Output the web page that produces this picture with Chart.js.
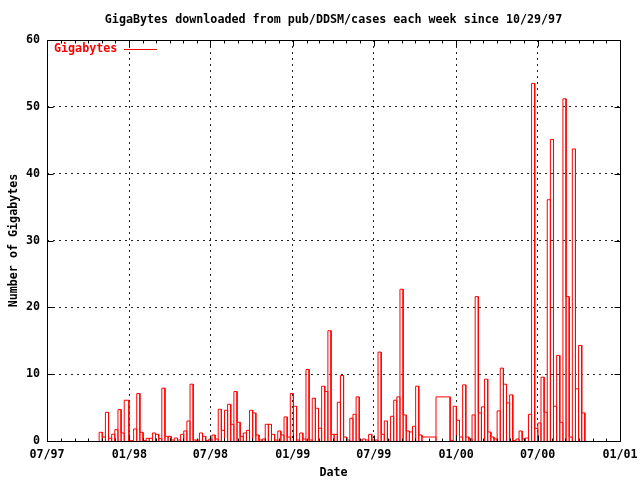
<!DOCTYPE html>
<html>
<head>
<meta charset="utf-8">
<script src="https://cdn.jsdelivr.net/npm/chart.js@4.4.0/dist/chart.umd.min.js"></script>
<style>
body{margin:0;background:#fff;}
</style>
</head>
<body>
<canvas id="chart" width="640" height="480"></canvas>
<script>
var titleText = 'GigaBytes downloaded from pub/DDSM/cases each week since 10/29/97';
var seriesName = 'Gigabytes';
var xTitle = 'Date';
var yTitle = 'Number of Gigabytes';

// one entry per week starting 10/29/97, null = no data for that week
var firstWeek = '1997-10-29';
var gigabytes = [
	1.3, 0.6, 4.3, 0.4, 1.0, 1.7, 4.7, 1.2, 6.1, null,
	0.05, 1.8, 7.1, 1.3, 0.05, 0.4, 0.4, 1.2, 1.0, 0.35,
	7.9, 0.7, 0.7, 0.15, 0.45, 0.15, 1.0, 1.5, 3.0, 8.5,
	0.15, 0.15, 1.2, 0.7, 0.05, 0.3, 0.9, 0.3, 4.75, 1.6,
	4.6, 5.5, 2.5, 7.4, 2.8, 0.7, 1.2, 1.6, 4.6, 4.2,
	0.9, 0.15, 0.3, 2.5, 2.5, 1.0, 0.15, 1.5, 0.9, 3.6,
	0.6, 7.1, 5.2, 0.15, 1.2, 0.3, 10.7, 0.15, 6.4, 4.9,
	1.9, 8.2, 7.4, 16.5, 1.0, 1.0, 5.8, 9.8, 0.6, 0.15,
	3.4, 4.0, 6.6, 0.15, 0.3, 0.15, 1.0, 0.15, 0.15, 13.3,
	1.0, 3.0, 0.15, 3.7, 6.1, 6.6, 22.7, 3.9, 1.5, 1.35,
	2.2, 8.2, 0.9, 0.6, null, null, null, null, null, null,
	null, 6.6, 0.05, 5.2, 3.1, 0.6, 8.4, 0.6, 0.3, 3.9,
	21.6, 4.2, 5.1, 9.25, 1.35, 0.6, 0.3, 4.5, 10.9, 8.5,
	5.7, 6.9, 0.05, 0.3, 1.5, 0.3, 0.45, 4.0, 53.5, 1.9,
	2.7, 9.55, 4.3, 36.1, 45.1, 5.2, 12.8, 2.8, 51.2, 21.6,
	0.6, 43.7, 7.8, 14.3, 4.2
];

var axisStart = '1997-07-01';
var axisEnd = '2001-01-01';
var yTicks = [0, 10, 20, 30, 40, 50, 60];

var mono = "'DejaVu Sans Mono', 'Liberation Mono', monospace";
var font = {family: mono, size: 11.7, weight: 'bold', lineHeight: 1.2};

function dayNum(s){
	var p = s.split('-');
	return Date.UTC(+p[0], +p[1]-1, +p[2]) / 86400000;
}
var day0 = dayNum(axisStart);
var xMax = dayNum(axisEnd) - day0;

// monthly ticks, labelled every january / july
var monthTicks = [];
var monthLabels = {};
(function(){
	var d = new Date(Date.UTC(1997, 6, 1));
	while (true){
		var v = d.getTime()/86400000 - day0;
		if (v > xMax) break;
		monthTicks.push(v);
		var m = d.getUTCMonth();
		if (m == 0 || m == 6){
			var mm = (m+1 < 10 ? '0' : '') + (m+1);
			var yy = ('' + d.getUTCFullYear()).substr(2);
			monthLabels[v] = mm + '/' + yy;
		}
		d.setUTCMonth(m+1);
	}
})();

// gnuplot style boxes: each box reaches halfway to its neighbours
var pts = [];
var start = dayNum(firstWeek) - day0;
for (var i=0;i<gigabytes.length;i++){
	if (gigabytes[i] == null) continue;
	pts.push({x: start + 7*i, y: gigabytes[i]});
}
var outline = [];
for (var k=0;k<pts.length;k++){
	var l = k > 0 ? (pts[k-1].x + pts[k].x)/2 : pts[k].x - 3.5;
	var r = k < pts.length-1 ? (pts[k].x + pts[k+1].x)/2 : pts[k].x + 3.5;
	outline.push({x:l,y:0},{x:l,y:pts[k].y},{x:r,y:pts[k].y},{x:r,y:0});
}

var gnuFrame = {
	id: 'gnuFrame',
	afterDatasetsDraw: function(chart){
		var c = chart.ctx, a = chart.chartArea;
		var xs = chart.scales.x, ys = chart.scales.y;
		c.save();
		c.strokeStyle = '#000';
		c.lineWidth = 1;
		c.beginPath();
		var L = Math.round(a.left)+0.5, R = Math.round(a.right)+0.5;
		var T = Math.round(a.top)+0.5, B = Math.round(a.bottom)+0.5;
		c.rect(L, T, R-L, B-T);
		for (var i=0;i<monthTicks.length;i++){
			var v = monthTicks[i];
			var px = Math.round(xs.getPixelForValue(v))+0.5;
			var len = monthLabels[v] ? 6 : 3;
			c.moveTo(px, B); c.lineTo(px, B-len);
			c.moveTo(px, T); c.lineTo(px, T+len);
		}
		for (var j=0;j<yTicks.length;j++){
			var py = Math.round(ys.getPixelForValue(yTicks[j]))+0.5;
			c.moveTo(L, py); c.lineTo(L+6, py);
			c.moveTo(R, py); c.lineTo(R-6, py);
		}
		c.stroke();

		// title, centred over the plot like gnuplot does
		c.fillStyle = '#000';
		c.font = 'bold 11.7px ' + mono;
		c.textBaseline = 'middle';
		c.textAlign = 'center';
		c.fillText(titleText, (a.left + a.right)/2, 20);

		// key
		c.fillStyle = '#ff0000';
		c.strokeStyle = '#ff0000';
		c.textAlign = 'left';
		c.fillText(chart.data.datasets[0].label, a.left+7, a.top+9);
		c.beginPath();
		c.moveTo(a.left+77, Math.round(a.top+9)+0.5);
		c.lineTo(a.left+110, Math.round(a.top+9)+0.5);
		c.stroke();
		c.restore();
	}
};

var ctx = document.getElementById('chart').getContext('2d');
new Chart(ctx, {
	type: 'line',
	data: {
		datasets: [{
			label: seriesName,
			data: outline,
			borderColor: '#ff0000',
			borderWidth: 1,
			pointRadius: 0,
			fill: false,
			tension: 0
		}]
	},
	options: {
		responsive: false,
		animation: false,
		layout: {padding: {left: 0, right: 20, top: 40, bottom: 0}},
		plugins: {
			legend: {display: false},
			tooltip: {enabled: false},
			title: {display: false}
		},
		scales: {
			x: {
				type: 'linear',
				min: 0,
				max: xMax,
				afterBuildTicks: function(s){
					s.ticks = monthTicks.map(function(v){ return {value: v}; });
				},
				afterFit: function(s){
					s.height = 39;
					s.paddingLeft = 0;
					s.paddingRight = 0;
				},
				ticks: {
					autoSkip: false,
					maxRotation: 0,
					padding: 7,
					color: '#000',
					font: font,
					callback: function(v){ return monthLabels[v] || ''; }
				},
				grid: {
					drawTicks: false,
					lineWidth: 1,
					color: function(c){
						var v = c.tick ? c.tick.value : -1;
						return (monthLabels[v] && v > 0 && v < xMax) ? '#222' : 'rgba(0,0,0,0)';
					}
				},
				border: {display: false, dash: [2, 4]},
				title: {display: true, text: xTitle, color: '#000', font: font, padding: {top: 0, bottom: 0}}
			},
			y: {
				min: 0,
				max: 60,
				afterBuildTicks: function(s){
					s.ticks = yTicks.map(function(v){ return {value: v}; });
				},
				afterFit: function(s){
					s.width = 47;
					s.paddingTop = 0;
					s.paddingBottom = 0;
				},
				ticks: {padding: 7, color: '#000', font: font},
				grid: {
					drawTicks: false,
					lineWidth: 1,
					color: function(c){
						var v = c.tick ? c.tick.value : -1;
						return (v > 0 && v < 60) ? '#222' : 'rgba(0,0,0,0)';
					}
				},
				border: {display: false, dash: [2, 4]},
				title: {display: true, text: yTitle, color: '#000', font: font, padding: {top: 7, bottom: 0}}
			}
		}
	},
	plugins: [gnuFrame]
});
</script>
</body>
</html>
